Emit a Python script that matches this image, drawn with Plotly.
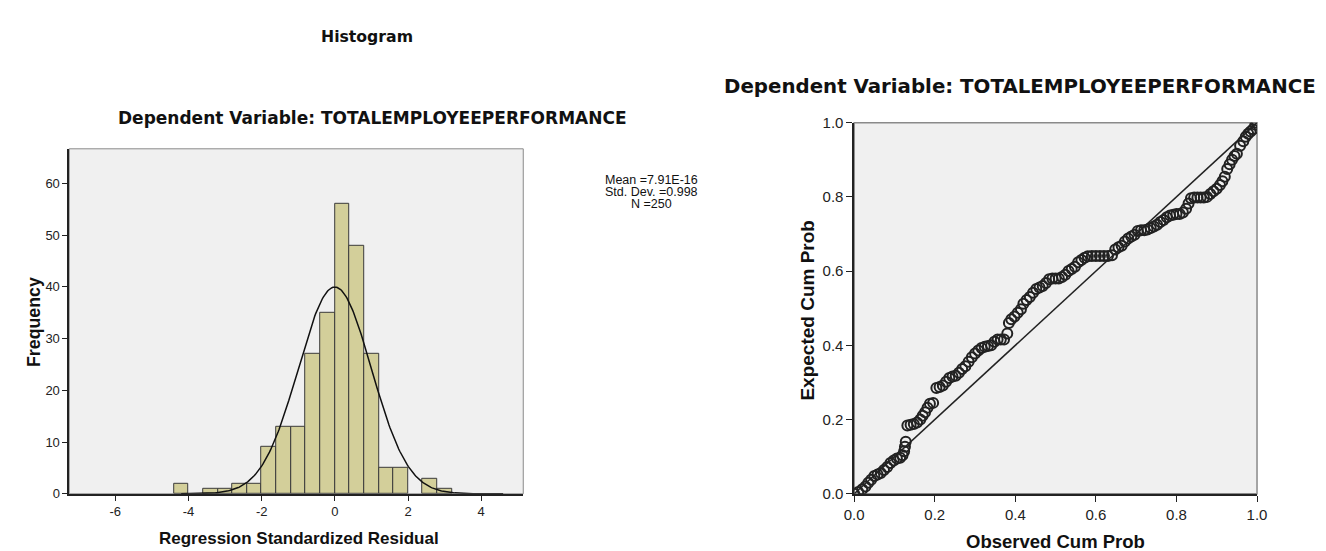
import plotly.graph_objects as go
import numpy as np

# ---------------- data ----------------
bin_left = [-4.4, -3.6, -3.2, -2.8, -2.4, -2.0, -1.6, -1.2, -0.8, -0.4,
            0.0, 0.4, 0.8, 1.2, 1.6, 2.4, 2.8]
bin_counts = [2, 1, 1, 2, 2, 9, 13, 13, 27, 35, 56, 48, 27, 5, 5, 3, 1]
bin_width = 0.4
res_mean = 7.91e-16
res_sd = 0.998
n_obs = 250
stats_lines = ["Mean =7.91E-16", "Std. Dev. =0.998", "N =250"]

hist_xticks = [-6, -4, -2, 0, 2, 4]
hist_xticklabels = ["-6", "-4", "-2", "0", "2", "4"]
hist_yticks = [0, 10, 20, 30, 40, 50, 60]
pp_ticks = [0.0, 0.2, 0.4, 0.6, 0.8, 1.0]
pp_ticklabels = ["0.0", "0.2", "0.4", "0.6", "0.8", "1.0"]

obs_cum = [0.000, 0.010, 0.020, 0.028, 0.035, 0.042, 0.050, 0.058, 0.066, 0.074,
           0.082, 0.090, 0.098, 0.106, 0.114, 0.120, 0.124, 0.126, 0.128, 0.132,
           0.140, 0.148, 0.156, 0.164, 0.170, 0.176, 0.182, 0.188, 0.196, 0.204,
           0.212, 0.220, 0.228, 0.236, 0.244, 0.252, 0.260, 0.268, 0.276, 0.284,
           0.292, 0.300, 0.308, 0.316, 0.324, 0.332, 0.340, 0.348, 0.356, 0.364,
           0.372, 0.380, 0.384, 0.390, 0.398, 0.406, 0.414, 0.420, 0.428, 0.436,
           0.444, 0.452, 0.460, 0.468, 0.476, 0.484, 0.492, 0.500, 0.508, 0.516,
           0.524, 0.532, 0.540, 0.548, 0.556, 0.564, 0.572, 0.580, 0.590, 0.600,
           0.610, 0.620, 0.630, 0.640, 0.648, 0.656, 0.664, 0.672, 0.680, 0.688,
           0.696, 0.704, 0.712, 0.720, 0.728, 0.736, 0.744, 0.752, 0.760, 0.768,
           0.776, 0.784, 0.792, 0.800, 0.808, 0.816, 0.824, 0.830, 0.836, 0.844,
           0.852, 0.860, 0.868, 0.876, 0.884, 0.892, 0.900, 0.908, 0.914, 0.920,
           0.926, 0.932, 0.938, 0.944, 0.950, 0.958, 0.966, 0.972, 0.978, 0.984,
           0.990, 0.996, 1.000]
exp_cum = [0.000, 0.005, 0.012, 0.020, 0.030, 0.038, 0.048, 0.052, 0.056, 0.064,
           0.072, 0.083, 0.090, 0.095, 0.097, 0.104, 0.115, 0.127, 0.140, 0.184,
           0.186, 0.188, 0.192, 0.200, 0.210, 0.220, 0.232, 0.243, 0.245, 0.285,
           0.288, 0.292, 0.302, 0.312, 0.316, 0.318, 0.326, 0.336, 0.344, 0.356,
           0.368, 0.378, 0.386, 0.393, 0.396, 0.398, 0.400, 0.410, 0.416, 0.416,
           0.416, 0.432, 0.460, 0.470, 0.478, 0.488, 0.497, 0.512, 0.522, 0.530,
           0.542, 0.552, 0.556, 0.560, 0.568, 0.578, 0.580, 0.580, 0.580, 0.584,
           0.590, 0.600, 0.606, 0.612, 0.624, 0.630, 0.636, 0.640, 0.641, 0.641,
           0.641, 0.641, 0.641, 0.643, 0.658, 0.664, 0.668, 0.680, 0.688, 0.693,
           0.698, 0.708, 0.710, 0.710, 0.712, 0.716, 0.720, 0.725, 0.732, 0.738,
           0.745, 0.750, 0.752, 0.754, 0.754, 0.758, 0.768, 0.782, 0.796, 0.798,
           0.798, 0.798, 0.798, 0.800, 0.808, 0.815, 0.822, 0.832, 0.842, 0.854,
           0.875, 0.888, 0.900, 0.910, 0.916, 0.938, 0.950, 0.962, 0.970, 0.976,
           0.982, 0.994, 1.000]

# ---------------- layout geometry ----------------
W, H = 1326, 551
def px(x):
    return x / W
def py(y):
    return 1 - y / H

FONT = "Liberation Sans, Arial, sans-serif"
TFONT = "DejaVu Sans, Liberation Sans, sans-serif"
BG = "#F0F0F0"
BAR = "#D3CF9A"

fig = go.Figure()

# histogram bars
centers = [b + bin_width / 2 for b in bin_left]
fig.add_trace(go.Bar(x=centers, y=bin_counts, width=bin_width,
                     marker=dict(color=BAR, line=dict(color="#3a3a3a", width=1)),
                     xaxis="x", yaxis="y", showlegend=False, hoverinfo="skip"))

# normal curve
xc = np.linspace(-4.2, 4.6, 300)
yc = n_obs * bin_width / (res_sd * np.sqrt(2 * np.pi)) * np.exp(-0.5 * ((xc - res_mean) / res_sd) ** 2)
fig.add_trace(go.Scatter(x=xc, y=yc, mode="lines", line=dict(color="#111111", width=1.5),
                         xaxis="x", yaxis="y", showlegend=False, hoverinfo="skip"))

# P-P reference line
fig.add_trace(go.Scatter(x=[0, 1], y=[0, 1], mode="lines",
                         line=dict(color="#222222", width=1.5),
                         xaxis="x2", yaxis="y2", showlegend=False, hoverinfo="skip"))
# P-P points
fig.add_trace(go.Scatter(x=obs_cum, y=exp_cum, mode="markers",
                         marker=dict(symbol="circle-open", size=10,
                                     color="#222222", line=dict(width=2)),
                         xaxis="x2", yaxis="y2", showlegend=False, hoverinfo="skip"))

def axis_common(fs, tl):
    return dict(showgrid=False, zeroline=False, showline=True, linecolor="#222222",
                linewidth=1.5, ticks="outside", ticklen=tl, tickcolor="#222222",
                tickfont=dict(family=FONT, size=fs, color="#222222"))

fig.update_layout(
    width=W, height=H,
    margin=dict(l=0, r=0, t=0, b=0),
    paper_bgcolor="white",
    plot_bgcolor=BG,
    bargap=0,
    xaxis=dict(domain=[px(52), px(513)], range=[-7.26, 5.15], anchor="y",
               tickvals=hist_xticks, ticktext=hist_xticklabels, **axis_common(13, 5)),
    yaxis=dict(domain=[py(492), py(136)], range=[0, 66.7], anchor="x",
               tickvals=hist_yticks, **axis_common(13, 5)),
    xaxis2=dict(domain=[px(849), px(1258)], range=[0, 1], anchor="y2",
                tickvals=pp_ticks, ticktext=pp_ticklabels, **axis_common(15, 6)),
    yaxis2=dict(domain=[py(492), py(109)], range=[0, 1], anchor="x2",
                tickvals=pp_ticks, ticktext=pp_ticklabels, **axis_common(15, 6)),
)

# frames (top / right edges) as shapes
fig.add_shape(type="rect", xref="paper", yref="paper",
              x0=px(52), x1=px(513), y0=py(492), y1=py(136),
              line=dict(color="#8a8a8a", width=1), layer="below")
fig.add_shape(type="rect", xref="paper", yref="paper",
              x0=px(849), x1=px(1258), y0=py(492), y1=py(109),
              line=dict(color="#8a8a8a", width=1.5), layer="below")

def ann(text, x, y, size, bold=True, angle=0, xanchor="center", family=FONT):
    fig.add_annotation(text=f"<b>{text}</b>" if bold else text,
                       x=px(x), y=py(y), xref="paper", yref="paper",
                       showarrow=False, textangle=angle,
                       xanchor=xanchor, yanchor="middle",
                       font=dict(family=family, size=size, color="#111111"))

ann("Histogram", 354, 20, 15.7, family=TFONT)
ann("Dependent Variable: TOTALEMPLOYEEPERFORMANCE", 100, 104, 17, xanchor="left", family=TFONT)
ann("Frequency", 17, 315, 17.8, angle=-90)
ann("Regression Standardized Residual", 285, 538, 17)
for i, line in enumerate(stats_lines):
    ann(line, 643, 168 + 12.5 * i, 12.5, bold=False)

ann("Dependent Variable: TOTALEMPLOYEEPERFORMANCE", 715, 72, 19.8, xanchor="left", family=TFONT)
ann("Expected Cum Prob", 802, 302, 19, angle=-90)
ann("Observed Cum Prob", 1053, 541, 18.5)

fig.write_html("out.html")
